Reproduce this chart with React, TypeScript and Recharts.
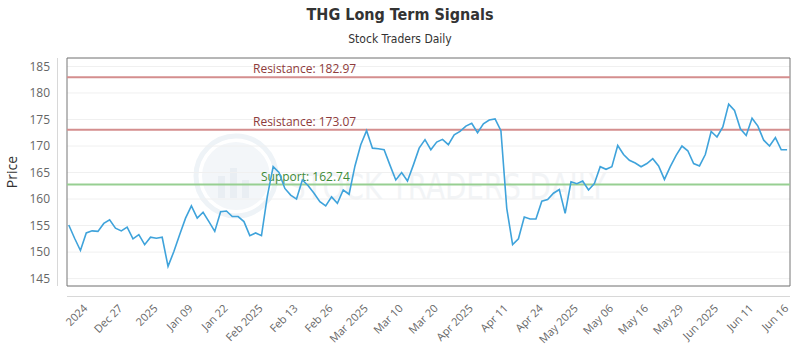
import React from 'react';
import { LineChart, Line, XAxis, YAxis, CartesianGrid, ReferenceLine, ReferenceArea } from 'recharts';

// closing prices, one per trading day
const prices = [
    155.1, 152.6, 150.3, 153.6, 154.0, 153.9, 155.4, 156.1, 154.5, 154.0, 154.7, 152.5,
    153.3, 151.4, 152.8, 152.6, 152.8, 147.3, 150.1, 153.3, 156.4, 158.7, 156.4, 157.5,
    155.75, 153.9, 157.6, 157.75, 156.7, 156.7, 155.75, 153.1, 153.6, 153.1, 160.5, 166.1,
    165.0, 162.0, 160.75, 160.0, 163.6, 162.5, 161.1, 159.5, 158.7, 160.4, 159.2, 161.7,
    160.9, 166.2, 170.25, 172.9, 169.6, 169.5, 169.3, 166.4, 163.6, 165.0, 163.4, 166.4,
    169.6, 171.2, 169.3, 170.75, 171.25, 170.25, 172.1, 172.75, 173.75, 174.3, 172.5, 174.2,
    174.9, 175.1, 172.9, 158.25, 151.4, 152.5, 156.6, 156.25, 156.25, 159.6, 159.9, 161.1,
    161.8, 157.3, 163.25, 162.9, 163.4, 161.7, 162.9, 166.1, 165.6, 166.1, 170.1, 168.4,
    167.3, 166.8, 166.1, 166.7, 167.6, 166.25, 163.7, 166.1, 168.25, 170.0, 169.1, 166.7,
    166.25, 168.4, 172.75, 171.7, 173.6, 177.9, 176.7, 173.25, 172.0, 175.25, 173.75, 171.1,
    170.0, 171.6, 169.3, 169.3,
];

const tickIndexes = [3, 9, 15, 21, 27, 33, 39, 45, 51, 57, 63, 69, 75, 81, 87, 93, 99, 105, 111, 117, 123];
const tickLabels = [
    '2024', 'Dec 27', '2025', 'Jan 09', 'Jan 22', 'Feb 2025', 'Feb 13', 'Feb 26', 'Mar 2025', 'Mar 10', 'Mar 20',
    'Apr 2025', 'Apr 11', 'Apr 24', 'May 2025', 'May 06', 'May 16', 'May 29', 'Jun 2025', 'Jun 11', 'Jun 16',
];
const yTicks = [145, 150, 155, 160, 165, 170, 175, 180, 185];
const resistance = [182.97, 173.07];
const support = [162.74];

const data = prices.map((price, i) => ({ i, price }));

const X_DOMAIN: [number, number] = [-0.3, 123.5];
const Y_DOMAIN: [number, number] = [143.6, 186.6];
const TICK_FONT = '"Open Sans", sans-serif';

function XTick({ x, y, payload }: any) {
    const k = tickIndexes.indexOf(payload.value);
    const px = x + 2;
    const py = y + 15;
    return (
        <text x={px} y={py} transform={`rotate(-45 ${px} ${py})`} textAnchor="end" fill="#666" fontSize={11} fontFamily={TICK_FONT}>
            {k >= 0 ? tickLabels[k] : ''}
        </text>
    );
}

function levelLabel(text: string, color: string, dx: number) {
    return (props: any) => {
        const vb = props.viewBox;
        return (
            <text x={vb.x + dx} y={vb.y - 4} fill={color} fontSize={12} fontFamily={TICK_FONT}>
                {text}
            </text>
        );
    };
}

function PriceLabel(props: any) {
    const vb = props.viewBox;
    const cx = vb.x + 17;
    const cy = vb.y + vb.height / 2;
    return (
        <text x={cx} y={cy} transform={`rotate(-90 ${cx} ${cy})`} textAnchor="middle" fill="#333" fontSize={14} fontFamily={TICK_FONT}>
            Price
        </text>
    );
}

export default function App() {
    return (
        <div style={{ position: 'absolute', left: 0, top: 0, width: 800, height: 350, background: '#fff' }}>
            <div style={{ position: 'absolute', left: 0, top: 5, width: 800, textAlign: 'center', fontFamily: '"DejaVu Sans Condensed", "DejaVu Sans", sans-serif', fontWeight: 'bold', fontSize: 16, color: '#333' }}>
                THG Long Term Signals
            </div>
            <div style={{ position: 'absolute', left: 0, top: 32, width: 800, textAlign: 'center', fontFamily: '"DejaVu Sans Condensed", "DejaVu Sans", sans-serif', fontSize: 12, color: '#333' }}>
                Stock Traders Daily
            </div>

            {/* faint watermark behind the plot */}
            <svg width={800} height={350} style={{ position: 'absolute', left: 0, top: 0 }}>
                <circle cx={236} cy={176} r={40} fill="none" stroke="#eef3f7" strokeWidth={5} />
                <circle cx={236} cy={176} r={34} fill="#f3f6f9" />
                <rect x={218} y={176} width={7} height={22} fill="#e9eef3" />
                <rect x={230} y={168} width={7} height={30} fill="#e9eef3" />
                <rect x={242} y={180} width={7} height={18} fill="#e9eef3" />
                <text x={288} y={199} textLength={318} lengthAdjust="spacingAndGlyphs" fill="#f2f4f6" fontSize={36} fontFamily='"DejaVu Sans Condensed", sans-serif'>
                    STOCK TRADERS DAILY
                </text>
            </svg>

            {/* offset axis lines */}
            <div style={{ position: 'absolute', left: 57, top: 58, width: 1, height: 228, background: '#d8d8d8' }} />
            <div style={{ position: 'absolute', left: 67, top: 296, width: 723, height: 1, background: '#d8d8d8' }} />

            <div style={{ position: 'absolute', left: 0, top: 0 }}>
                <LineChart width={800} height={350} data={data} margin={{ top: 58, right: 10, bottom: 0, left: 0 }}>
                    <CartesianGrid vertical={false} stroke="#f0f0f0" />
                    <XAxis
                        type="number"
                        dataKey="i"
                        domain={X_DOMAIN}
                        ticks={tickIndexes}
                        interval={0}
                        allowDataOverflow
                        axisLine={false}
                        tickLine={false}
                        height={64}
                        tick={<XTick />}
                    />
                    <YAxis
                        domain={Y_DOMAIN}
                        ticks={yTicks}
                        allowDataOverflow
                        axisLine={false}
                        tickLine={false}
                        tickMargin={11}
                        width={67}
                        tick={{ fill: '#666', fontSize: 12, fontFamily: TICK_FONT }}
                        label={<PriceLabel />}
                    />
                    <ReferenceArea x1={X_DOMAIN[0]} x2={X_DOMAIN[1]} y1={Y_DOMAIN[0]} y2={Y_DOMAIN[1]} fill="none" stroke="#777" strokeWidth={1} ifOverflow="visible" />
                    <ReferenceLine y={resistance[0]} stroke="#d48e8e" strokeWidth={2} label={levelLabel(`Resistance: ${resistance[0]}`, '#8e3b3b', 186)} />
                    <ReferenceLine y={resistance[1]} stroke="#d48e8e" strokeWidth={2} label={levelLabel(`Resistance: ${resistance[1]}`, '#8e3b3b', 186)} />
                    <ReferenceLine y={support[0]} stroke="#97cf92" strokeWidth={2} label={levelLabel(`Support: ${support[0]}`, '#3e8a36', 194)} />
                    <Line type="linear" dataKey="price" stroke="#3fa3db" strokeWidth={1.6} dot={false} isAnimationActive={false} />
                </LineChart>
            </div>
        </div>
    );
}
